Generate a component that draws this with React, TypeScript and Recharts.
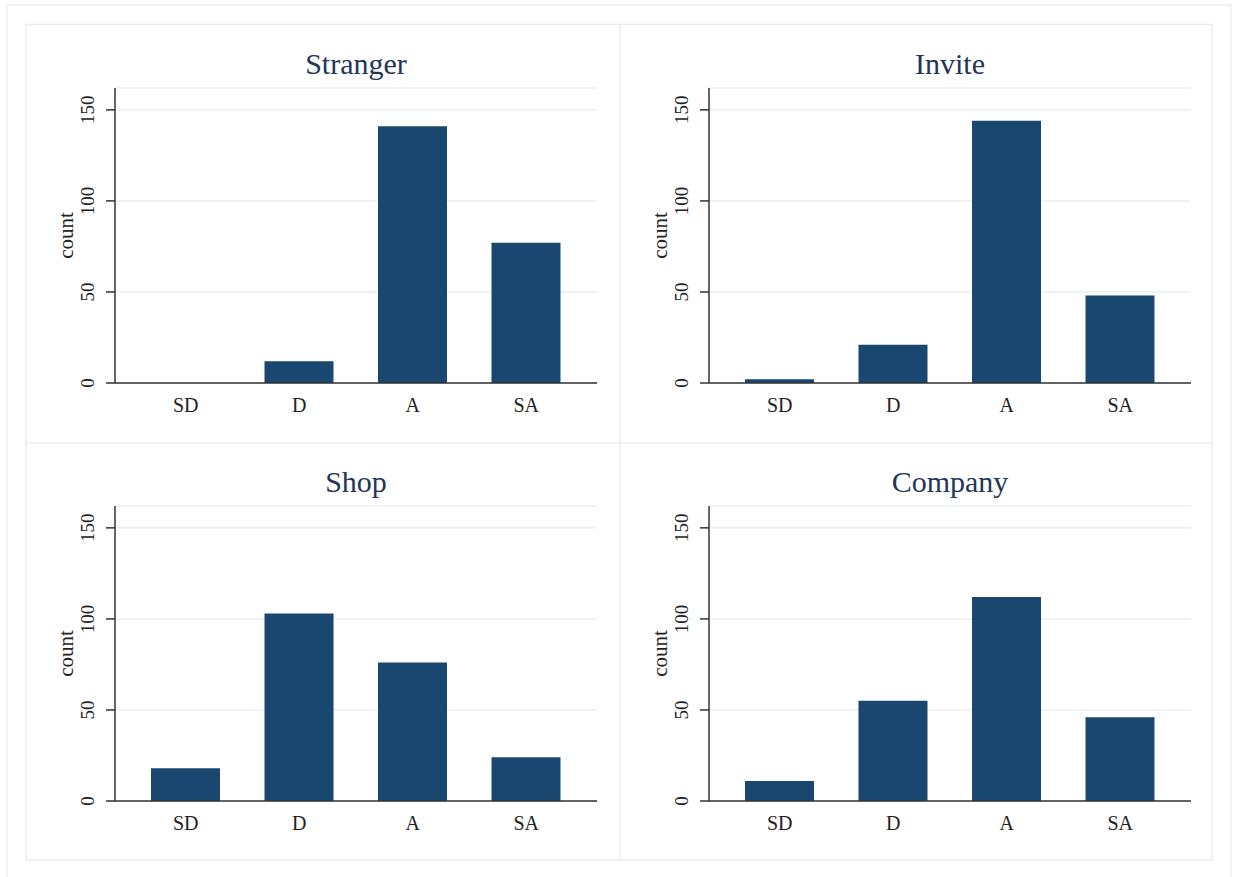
import React from 'react';
import { BarChart, Bar, XAxis, YAxis, CartesianGrid } from 'recharts';

const categories = ['SD', 'D', 'A', 'SA'];
const strangerCounts = [0, 12, 141, 77];
const inviteCounts = [2, 21, 144, 48];
const shopCounts = [18, 103, 76, 24];
const companyCounts = [11, 55, 112, 46];
const yTicks = [0, 50, 100, 150];
const panelTitles = ['Stranger', 'Invite', 'Shop', 'Company'];

const FONT = '"Liberation Serif", "DejaVu Serif", serif';
const BAR = '#1a476f';
const GRID = '#e9f0f2';
const FRAME = '#e8eef0';
const AXIS = '#333333';
const TITLE = '#24355a';

const build = (vals: number[]) => categories.map((c, i) => ({ cat: c, count: vals[i] }));

const XTick = (props: any) => {
  const { x, y, payload } = props;
  return (
    <text x={x} y={y + 29} textAnchor="middle" fontFamily={FONT} fontSize={20} fill="#222">
      {payload.value}
    </text>
  );
};

const YTick = (props: any) => {
  const { x, y, payload } = props;
  return (
    <text
      transform={`translate(${x - 12},${y}) rotate(-90)`}
      x={0}
      y={0}
      textAnchor="middle"
      fontFamily={FONT}
      fontSize={19}
      fill="#222"
    >
      {payload.value}
    </text>
  );
};

const CountLabel = (props: any) => {
  const vb = props.viewBox || {};
  const cx = (vb.x ?? 0) + 47;
  const cy = (vb.y ?? 0) + (vb.height ?? 0) / 2;
  return (
    <text
      transform={`translate(${cx},${cy}) rotate(-90)`}
      x={0}
      y={0}
      textAnchor="middle"
      fontFamily={FONT}
      fontSize={21}
      fill="#222"
    >
      count
    </text>
  );
};

type PanelProps = {
  title: string;
  values: number[];
  left: number;
  top: number;
  width: number;
  height: number;
  mTop: number;
  mRight: number;
  mBottom: number;
};

const Panel = ({ title, values, left, top, width, height, mTop, mRight, mBottom }: PanelProps) => {
  const data = build(values);
  const plotLeft = 89;
  const plotRight = width - mRight;
  const cx = (plotLeft + plotRight) / 2;
  return (
    <div style={{ position: 'absolute', left, top, width, height }}>
      <svg
        width={width}
        height={mTop}
        style={{ position: 'absolute', left: 0, top: 0, overflow: 'visible' }}
      >
        <text x={cx} y={mTop - 14} textAnchor="middle" fontFamily={FONT} fontSize={30} fill={TITLE}>
          {title}
        </text>
      </svg>
      <BarChart
        width={width}
        height={height}
        data={data}
        margin={{ top: mTop, right: mRight, bottom: 0, left: 0 }}
        style={{ position: 'absolute', left: 0, top: 0 }}
      >
        <CartesianGrid vertical={false} stroke={GRID} strokeWidth={1.5} />
        <XAxis
          dataKey="cat"
          padding={{ left: 14, right: 14 }}
          tickLine={false}
          tickSize={0}
          tickMargin={0}
          axisLine={{ stroke: AXIS, strokeWidth: 1.5 }}
          tick={<XTick />}
          height={mBottom}
          interval={0}
        />
        <YAxis
          width={89}
          domain={[0, 162]}
          ticks={yTicks}
          allowDataOverflow
          tickSize={9}
          tickMargin={0}
          tickLine={{ stroke: AXIS, strokeWidth: 1.5 }}
          axisLine={{ stroke: AXIS, strokeWidth: 1.5 }}
          tick={<YTick />}
          label={<CountLabel />}
        />
        <Bar dataKey="count" fill={BAR} barSize={69} isAnimationActive={false} />
      </BarChart>
    </div>
  );
};

export default function App() {
  return (
    <div style={{ position: 'absolute', left: 0, top: 0, width: 1233, height: 877, background: '#fff' }}>
      <svg width={1233} height={877} style={{ position: 'absolute', left: 0, top: 0 }}>
        <rect x={7} y={5} width={1224} height={890} fill="none" stroke={FRAME} strokeWidth={1.5} />
        <rect x={26} y={24.5} width={1186} height={835.5} fill="none" stroke={FRAME} strokeWidth={1.5} />
        <line x1={620} y1={24.5} x2={620} y2={860} stroke={FRAME} strokeWidth={1.5} />
        <line x1={26} y1={443} x2={1212} y2={443} stroke={FRAME} strokeWidth={1.5} />
      </svg>
      <Panel title={panelTitles[0]} values={strangerCounts} left={26} top={24} width={594} height={419} mTop={64} mRight={23} mBottom={60} />
      <Panel title={panelTitles[1]} values={inviteCounts} left={620} top={24} width={592} height={419} mTop={64} mRight={21} mBottom={60} />
      <Panel title={panelTitles[2]} values={shopCounts} left={26} top={443} width={594} height={417} mTop={63} mRight={23} mBottom={59} />
      <Panel title={panelTitles[3]} values={companyCounts} left={620} top={443} width={592} height={417} mTop={63} mRight={21} mBottom={59} />
    </div>
  );
}
